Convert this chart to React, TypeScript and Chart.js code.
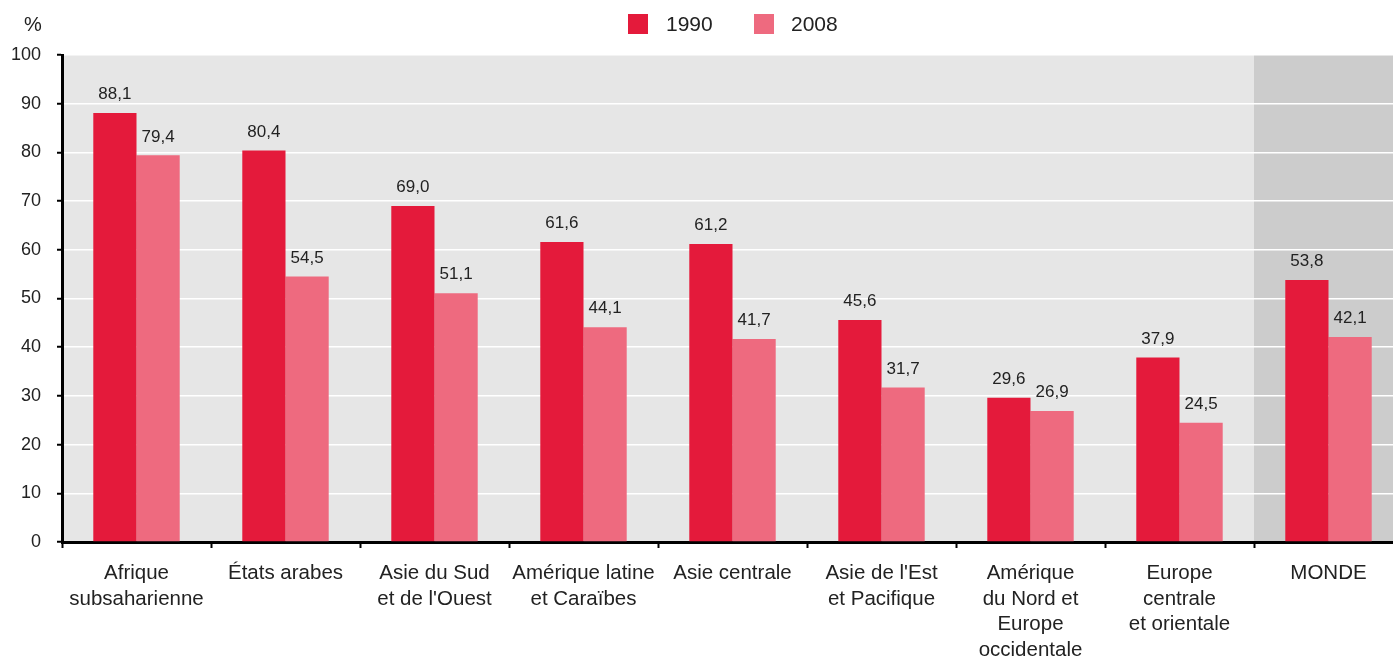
import React, { useEffect, useRef } from "react";
import { Chart, registerables } from "chart.js";

Chart.register(...registerables);

const categories: string[][] = [
  ["Afrique", "subsaharienne"],
  ["États arabes"],
  ["Asie du Sud", "et de l'Ouest"],
  ["Amérique latine", "et Caraïbes"],
  ["Asie centrale"],
  ["Asie de l'Est", "et Pacifique"],
  ["Amérique", "du Nord et", "Europe", "occidentale"],
  ["Europe", "centrale", "et orientale"],
  ["MONDE"],
];
const values1990 = [88.1, 80.4, 69.0, 61.6, 61.2, 45.6, 29.6, 37.9, 53.8];
const values2008 = [79.4, 54.5, 51.1, 44.1, 41.7, 31.7, 26.9, 24.5, 42.1];
const seriesNames = ["1990", "2008"];
const yTicks = [0, 10, 20, 30, 40, 50, 60, 70, 80, 90, 100];

const COL1 = "#e41a3b";
const COL2 = "#ee6a7f";
const FONT = "'Liberation Sans', Arial, sans-serif";
const TEXT = "#222222";

export default function App() {
  const ref = useRef<HTMLCanvasElement | null>(null);
  useEffect(() => {
    const canvas = ref.current!;
    const bgPlugin = {
      id: "bg",
      beforeDraw(chart: any) {
        const { ctx, chartArea } = chart;
        const x = chart.scales.x;
        ctx.save();
        ctx.fillStyle = "#e6e6e6";
        ctx.fillRect(chartArea.left, chartArea.top, chartArea.right - chartArea.left, chartArea.bottom - chartArea.top);
        const step = x.getPixelForValue(1) - x.getPixelForValue(0);
        const bx = x.getPixelForValue(categories.length - 1) - step / 2;
        ctx.fillStyle = "#cccccc";
        ctx.fillRect(bx, chartArea.top, chartArea.right - bx, chartArea.bottom - chartArea.top);
        ctx.restore();
      },
      afterDraw(chart: any) {
        const { ctx } = chart;
        ctx.save();
        ctx.fillStyle = TEXT;
        ctx.font = `20px ${FONT}`;
        ctx.textAlign = "center";
        ctx.textBaseline = "middle";
        ctx.fillText("%", 33, 25);
        // legend
        const items = [
          { name: seriesNames[0], color: COL1, sx: 628, tx: 666 },
          { name: seriesNames[1], color: COL2, sx: 754, tx: 791 },
        ];
        ctx.font = `21px ${FONT}`;
        ctx.textAlign = "left";
        for (const it of items) {
          ctx.fillStyle = it.color;
          ctx.fillRect(it.sx, 14, 20, 20);
          ctx.fillStyle = TEXT;
          ctx.fillText(it.name, it.tx, 25);
        }
        ctx.restore();
      },
      afterDatasetsDraw(chart: any) {
        const { ctx } = chart;
        ctx.save();
        ctx.fillStyle = TEXT;
        ctx.font = `17px ${FONT}`;
        ctx.textAlign = "center";
        ctx.textBaseline = "bottom";
        chart.data.datasets.forEach((ds: any, di: number) => {
          const meta = chart.getDatasetMeta(di);
          meta.data.forEach((bar: any, i: number) => {
            const v = ds.data[i] as number;
            ctx.fillText(v.toFixed(1).replace(".", ","), bar.x, bar.y - 10);
          });
        });
        ctx.restore();
      },
    };

    const chart = new Chart(canvas, {
      type: "bar",
      data: {
        labels: categories,
        datasets: [
          { label: seriesNames[0], data: values1990, backgroundColor: COL1, categoryPercentage: 0.58, barPercentage: 1.0 },
          { label: seriesNames[1], data: values2008, backgroundColor: COL2, categoryPercentage: 0.58, barPercentage: 1.0 },
        ],
      },
      options: {
        responsive: false,
        animation: false,
        devicePixelRatio: 1,
        layout: { padding: { top: 55, left: 0, right: 0, bottom: 0 } },
        plugins: { legend: { display: false }, tooltip: { enabled: false } },
        scales: {
          x: {
            afterFit(scale: any) { scale.height = 117; },
            grid: { display: true, drawOnChartArea: false, offset: true, tickLength: 6, tickColor: "#000", tickWidth: 2 },
            border: { display: true, color: "#000", width: 3 },
            ticks: { color: TEXT, font: { family: FONT, size: 20.5, lineHeight: 1.24 }, padding: 13, maxRotation: 0, autoSkip: false },
          },
          y: {
            min: 0,
            max: 100,
            afterFit(scale: any) { scale.width = 62; },
            afterBuildTicks(scale: any) { scale.ticks = yTicks.map((v) => ({ value: v })); },
            grid: { color: "#ffffff", lineWidth: 1.5, tickLength: 5, tickColor: "#000", tickWidth: 2 },
            border: { display: true, color: "#000", width: 3 },
            ticks: { color: TEXT, font: { family: FONT, size: 18 }, padding: 16 },
          },
        },
      },
      plugins: [bgPlugin],
    });
    return () => chart.destroy();
  }, []);
  return (
    <div style={{ position: "fixed", left: 0, top: 0, width: 1393, height: 659, overflow: "hidden", background: "#fff" }}>
      <canvas ref={ref} width={1403} height={659} style={{ width: 1403, height: 659, display: "block" }} />
    </div>
  );
}
